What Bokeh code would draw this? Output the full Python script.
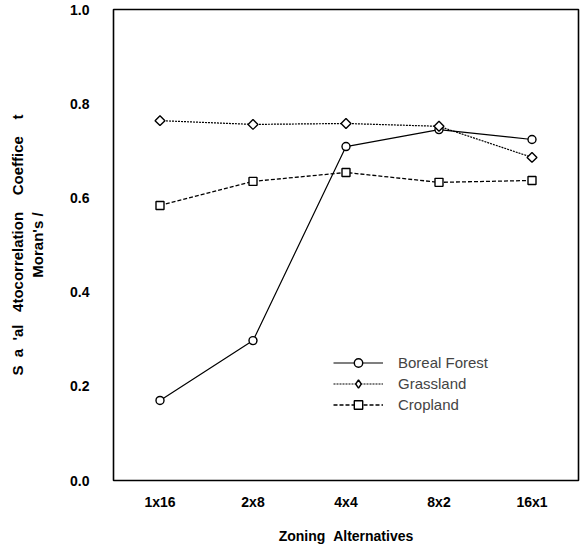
from bokeh.plotting import figure
from bokeh.models import FactorRange, Range1d, FixedTicker, Legend, LegendItem, PrintfTickFormatter
from bokeh.embed import file_html
from bokeh.resources import INLINE
import math

zones = ["1x16", "2x8", "4x4", "8x2", "16x1"]
boreal = [0.170, 0.297, 0.709, 0.745, 0.724]
grassland = [0.764, 0.756, 0.758, 0.752, 0.686]
cropland = [0.584, 0.635, 0.654, 0.633, 0.637]
y_ticks = [0.0, 0.2, 0.4, 0.6, 0.8, 1.0]

FONT = "Liberation Sans"
NB = "\u00a0"

p = figure(x_range=FactorRange(*zones, range_padding=0), y_range=Range1d(0, 1.0),
           width=580, height=547, output_backend="svg", toolbar_location=None,
           min_border_left=113, min_border_right=2, min_border_top=9, min_border_bottom=67)

p.xgrid.visible = False
p.ygrid.visible = False
p.outline_line_color = "black"
p.outline_line_width = 1.6
p.outline_line_alpha = 1.0

p.yaxis.ticker = FixedTicker(ticks=y_ticks)
p.yaxis.formatter = PrintfTickFormatter(format="%.1f")

for ax in (p.xaxis[0], p.yaxis[0]):
    ax.axis_line_color = None
    ax.major_tick_line_color = None
    ax.minor_tick_line_color = None
    ax.major_label_text_font = FONT
    ax.major_label_text_font_style = "bold"
    ax.major_label_text_font_size = "14px"
    ax.major_label_text_color = "black"
    ax.axis_label_text_font = FONT
    ax.axis_label_text_font_style = "bold"
    ax.axis_label_text_font_size = "14px"
    ax.axis_label_text_color = "black"

p.xaxis.major_label_standoff = 7
p.xaxis.axis_label = "Zoning" + NB + NB + "Alternatives"
p.xaxis.axis_label_standoff = 15
p.yaxis.major_label_standoff = 18
p.yaxis.axis_label = ("S" + NB * 2 + "a" + NB * 2 + "'al" + NB * 3 + "4tocorrelation" + NB * 4 +
                      "Coeffice" + NB * 4 + "t\nMoran's" + NB + "/")
p.yaxis.axis_label_text_font_size = "15px"
p.yaxis.axis_label_standoff = 21

r1 = p.line(zones, boreal, line_color="black", line_width=1.2)
m1 = p.scatter(zones, boreal, marker="circle", size=8, fill_color="white", line_color="black", line_width=1.4)
r2 = p.line(zones, grassland, line_color="black", line_width=1.2, line_dash="2 1")
m2 = p.scatter(zones, grassland, marker="square", angle=math.pi / 4, size=7, fill_color="white",
               line_color="black", line_width=1.4)
# hidden diamond renderer that only supplies the legend glyph (legend glyphs ignore marker angle)
lg2 = p.scatter(zones, grassland, marker="diamond", size=10, fill_color="white", line_color="black",
                line_width=1.4, visible=False)
r3 = p.line(zones, cropland, line_color="black", line_width=1.3, line_dash="4 2")
m3 = p.scatter(zones, cropland, marker="square", size=8, fill_color="white", line_color="black", line_width=1.4)

legend = Legend(items=[
    LegendItem(label="Boreal Forest", renderers=[r1, m1]),
    LegendItem(label="Grassland", renderers=[r2, lg2]),
    LegendItem(label="Cropland", renderers=[r3, m3]),
], location=(220, 65), border_line_color=None, background_fill_alpha=0,
    padding=0, margin=0, spacing=0, glyph_width=50, glyph_height=21, label_height=21,
    label_standoff=15, label_text_font=FONT, label_text_font_size="15px")
p.add_layout(legend, "center")

open("out.html", "w").write(file_html(p, INLINE))
